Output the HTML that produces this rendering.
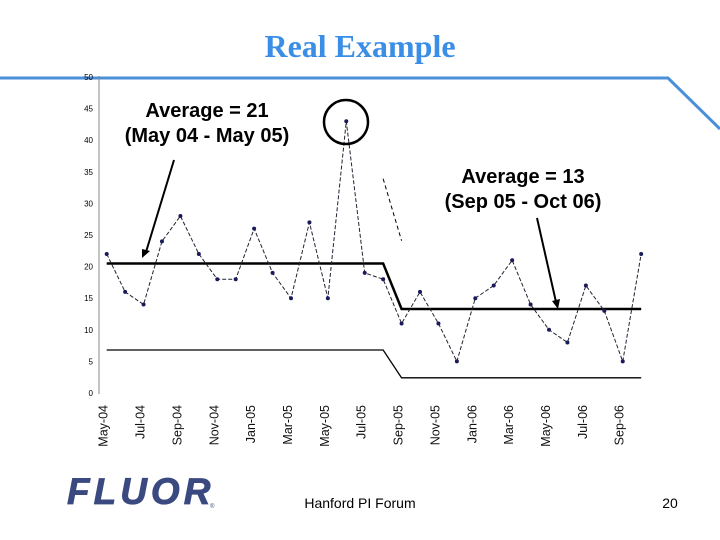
<!DOCTYPE html>
<html><head><meta charset="utf-8"><style>
html,body{margin:0;padding:0;background:#fff;}
svg{display:block;}
</style></head><body>
<svg id="c" width="720" height="540" xmlns="http://www.w3.org/2000/svg" font-family="Liberation Sans, sans-serif">
<text x="360" y="57" text-anchor="middle" font-family="Liberation Serif, serif" font-weight="bold" font-size="32" fill="#3a8ee6">Real Example</text>
<polyline points="0,78 668,78 720,129" fill="none" stroke="#4a90d9" stroke-width="3"/>
<g id="chart"></g>
<g>
<text x="207" y="117" text-anchor="middle" font-weight="bold" font-size="20">Average = 21</text>
<text x="207" y="142" text-anchor="middle" font-weight="bold" font-size="20">(May 04 - May 05)</text>
<line x1="174" y1="160" x2="146" y2="252" stroke="#000" stroke-width="2"/>
<polygon points="142,258 142,249 150,251" fill="#000"/>
</g>
<g>
<text x="523" y="183" text-anchor="middle" font-weight="bold" font-size="20">Average = 13</text>
<text x="523" y="208" text-anchor="middle" font-weight="bold" font-size="20">(Sep 05 - Oct 06)</text>
<line x1="537" y1="218" x2="556" y2="302" stroke="#000" stroke-width="2"/>
<polygon points="558,309 552,301 560,299" fill="#000"/>
</g>
<circle cx="346" cy="122" r="22" fill="none" stroke="#000" stroke-width="2.5"/>
<text x="67" y="504" font-weight="bold" font-style="italic" font-size="37" fill="#3a4a80" letter-spacing="4" stroke="#3a4a80" stroke-width="0.8">FLUOR</text>
<text x="210" y="508" font-size="6" fill="#3a4a80">®</text>
<text x="360" y="508" text-anchor="middle" font-size="14">Hanford PI Forum</text>
<text x="670" y="508" text-anchor="middle" font-size="14">20</text>
</svg>
<script>
const categories = ["May-04","Jun-04","Jul-04","Aug-04","Sep-04","Oct-04","Nov-04","Dec-04","Jan-05","Feb-05","Mar-05","Apr-05","May-05","Jun-05","Jul-05","Aug-05","Sep-05","Oct-05","Nov-05","Dec-05","Jan-06","Feb-06","Mar-06","Apr-06","May-06","Jun-06","Jul-06","Aug-06","Sep-06","Oct-06"];
const values = [22,16,14,24,28,22,18,18,26,19,15,27,15,43,19,18,11,16,11,5,15,17,21,14,10,8,17,13,5,22];
const centerLine = [[0,20.5],[15,20.5],[16,13.3],[29,13.3]];
const lowerLine = [[0,6.8],[15,6.8],[16,2.4],[29,2.4]];
const upperSegment = [[15,33.9],[16,24.1]];
const yTicks = [0,5,10,15,20,25,30,35,40,45,50];
const NS="http://www.w3.org/2000/svg";
const g=document.getElementById('chart');
const x=i=>106.7+i*18.43;
const y=v=>393-v*6.32;
function mk(t,a){const e=document.createElementNS(NS,t);for(const k in a)e.setAttribute(k,a[k]);g.appendChild(e);return e;}
let e=mk('line',{x1:99,y1:76,x2:99,y2:394,stroke:'#888','stroke-width':1});


yTicks.forEach(t=>{const l=mk('text',{x:93,y:y(t)+3,'text-anchor':'end','font-size':8,fill:'#000'});l.textContent=t;

});
categories.forEach((c,i)=>{if(i%2)return;const l=mk('text',{transform:`translate(${x(i)+1},405) rotate(-90)`,'text-anchor':'end','font-size':12.5,fill:'#111'});l.textContent=c;

});
const pl=(arr,attrs,name)=>{const p=mk('polyline',Object.assign({points:arr.map(d=>x(d[0])+','+y(d[1])).join(' '),fill:'none'},attrs));

};
pl(lowerLine,{stroke:'#000','stroke-width':1.3},'lower-limit-line');
pl(centerLine,{stroke:'#000','stroke-width':2.5},'average-line');
pl(upperSegment,{stroke:'#000','stroke-width':1,'stroke-dasharray':'4,3'},'upper-limit-segment');
pl(values.map((v,i)=>[i,v]),{stroke:'#223','stroke-width':1,'stroke-dasharray':'4,2'},'data-line');
values.forEach((v,i)=>{const c=mk('circle',{cx:x(i),cy:y(v),r:2,fill:'#1a1a5a'});

});
</script>
</body></html>
